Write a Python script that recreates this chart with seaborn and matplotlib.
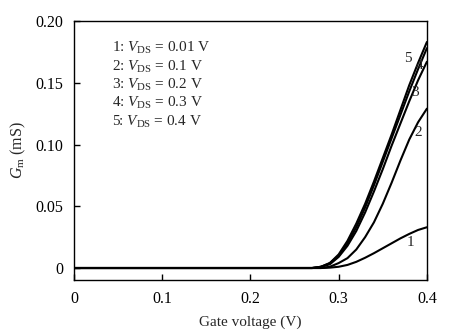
import numpy as np
import pandas as pd
import matplotlib
matplotlib.use("Agg")
import matplotlib.pyplot as plt
import seaborn as sns

# Gate voltage sample points (V)
gate_v = [0.0, 0.1, 0.2, 0.25, 0.26, 0.27, 0.28, 0.29, 0.30, 0.31, 0.32,
          0.33, 0.34, 0.35, 0.36, 0.37, 0.38, 0.39, 0.40]

# Gm (mS) for each VDS curve
gm_1 = [0, 0, 0, 0, 0, 0, 0.0, 0.0003, 0.001, 0.0025, 0.005, 0.0083, 0.012,
        0.016, 0.020, 0.024, 0.0276, 0.0308, 0.033]
gm_2 = [0, 0, 0, 0, 0, 0, 0.0, 0.001, 0.004, 0.008, 0.015, 0.025, 0.037,
        0.052, 0.069, 0.087, 0.104, 0.118, 0.129]
gm_3 = [0, 0, 0, 0, 0, 0, 0.001, 0.003, 0.009, 0.018, 0.030, 0.045, 0.062,
        0.080, 0.099, 0.117, 0.135, 0.152, 0.167]
gm_4 = [0, 0, 0, 0, 0, 0, 0.001, 0.004, 0.010, 0.020, 0.033, 0.049, 0.067,
        0.086, 0.105, 0.124, 0.143, 0.161, 0.178]
gm_5 = [0, 0, 0, 0, 0, 0, 0.001, 0.004, 0.011, 0.022, 0.036, 0.052, 0.070,
        0.089, 0.108, 0.128, 0.148, 0.166, 0.183]

curve_ids = ["1", "2", "3", "4", "5"]
vds_labels = ["0.01", "0.1", "0.2", "0.3", "0.4"]
x_ticks = [0, 0.1, 0.2, 0.3, 0.4]
x_ticklabels = ["0", "0.1", "0.2", "0.3", "0.4"]
y_ticks = [0, 0.05, 0.10, 0.15, 0.20]
y_ticklabels = ["0", "0.05", "0.10", "0.15", "0.20"]

frames = []
for cid, g in zip(curve_ids, [gm_1, gm_2, gm_3, gm_4, gm_5]):
    frames.append(pd.DataFrame({"v": gate_v, "gm": g, "curve": cid}))
df = pd.concat(frames, ignore_index=True)

sns.set_style("white")
plt.rcParams["font.family"] = ["Liberation Serif", "DejaVu Serif"]
plt.rcParams["mathtext.fontset"] = "custom"
plt.rcParams["mathtext.rm"] = "Liberation Serif"
plt.rcParams["mathtext.it"] = "Liberation Serif:italic"

fig = plt.figure(figsize=(4.61, 3.36), dpi=100)
ax = fig.add_axes([0.1605, 0.1667, 0.7655, 0.7708])

sns.lineplot(data=df, x="v", y="gm", hue="curve",
             palette=["black"] * 5, linewidth=1.5, legend=False, ax=ax)
for ln in ax.get_lines():
    ln.set_solid_joinstyle("round")

ax.set_xlim(0, 0.4)
ax.set_ylim(-0.0097, 0.20)
ax.set_xticks(x_ticks)
ax.set_xticklabels(x_ticklabels)
ax.set_yticks(y_ticks)
ax.set_yticklabels(y_ticklabels)
ax.tick_params(axis="both", direction="in", length=4, width=1, labelsize=11.5,
               colors="black", bottom=True, left=True, top=False, right=False)
ax.tick_params(axis="x", pad=8)
ax.tick_params(axis="y", pad=8)
for s in ax.spines.values():
    s.set_color("black")
    s.set_linewidth(1.0)

ax.set_xlabel("Gate voltage (V)", fontsize=11, labelpad=6)
ax.set_ylabel(r"$G_{\mathrm{m}}$ (mS)", fontsize=11.5, labelpad=5)

# Legend-like text block
ys = [0.896, 0.822, 0.753, 0.683, 0.610]
for cid, vl, yy in zip(curve_ids, vds_labels, ys):
    ax.text(0.108, yy, cid + r": $V_{\mathrm{DS}}$ = " + vl + " V",
            transform=ax.transAxes, fontsize=11, va="center", ha="left")

# Curve labels
label_pos = {"5": (0.3785, 0.170), "4": (0.392, 0.164), "3": (0.3864, 0.1425),
             "2": (0.390, 0.110), "1": (0.381, 0.021)}
for cid in curve_ids:
    lx, ly = label_pos[cid]
    ax.text(lx, ly, cid, fontsize=11, ha="center", va="center")

fig.savefig("out.png", dpi=100)
